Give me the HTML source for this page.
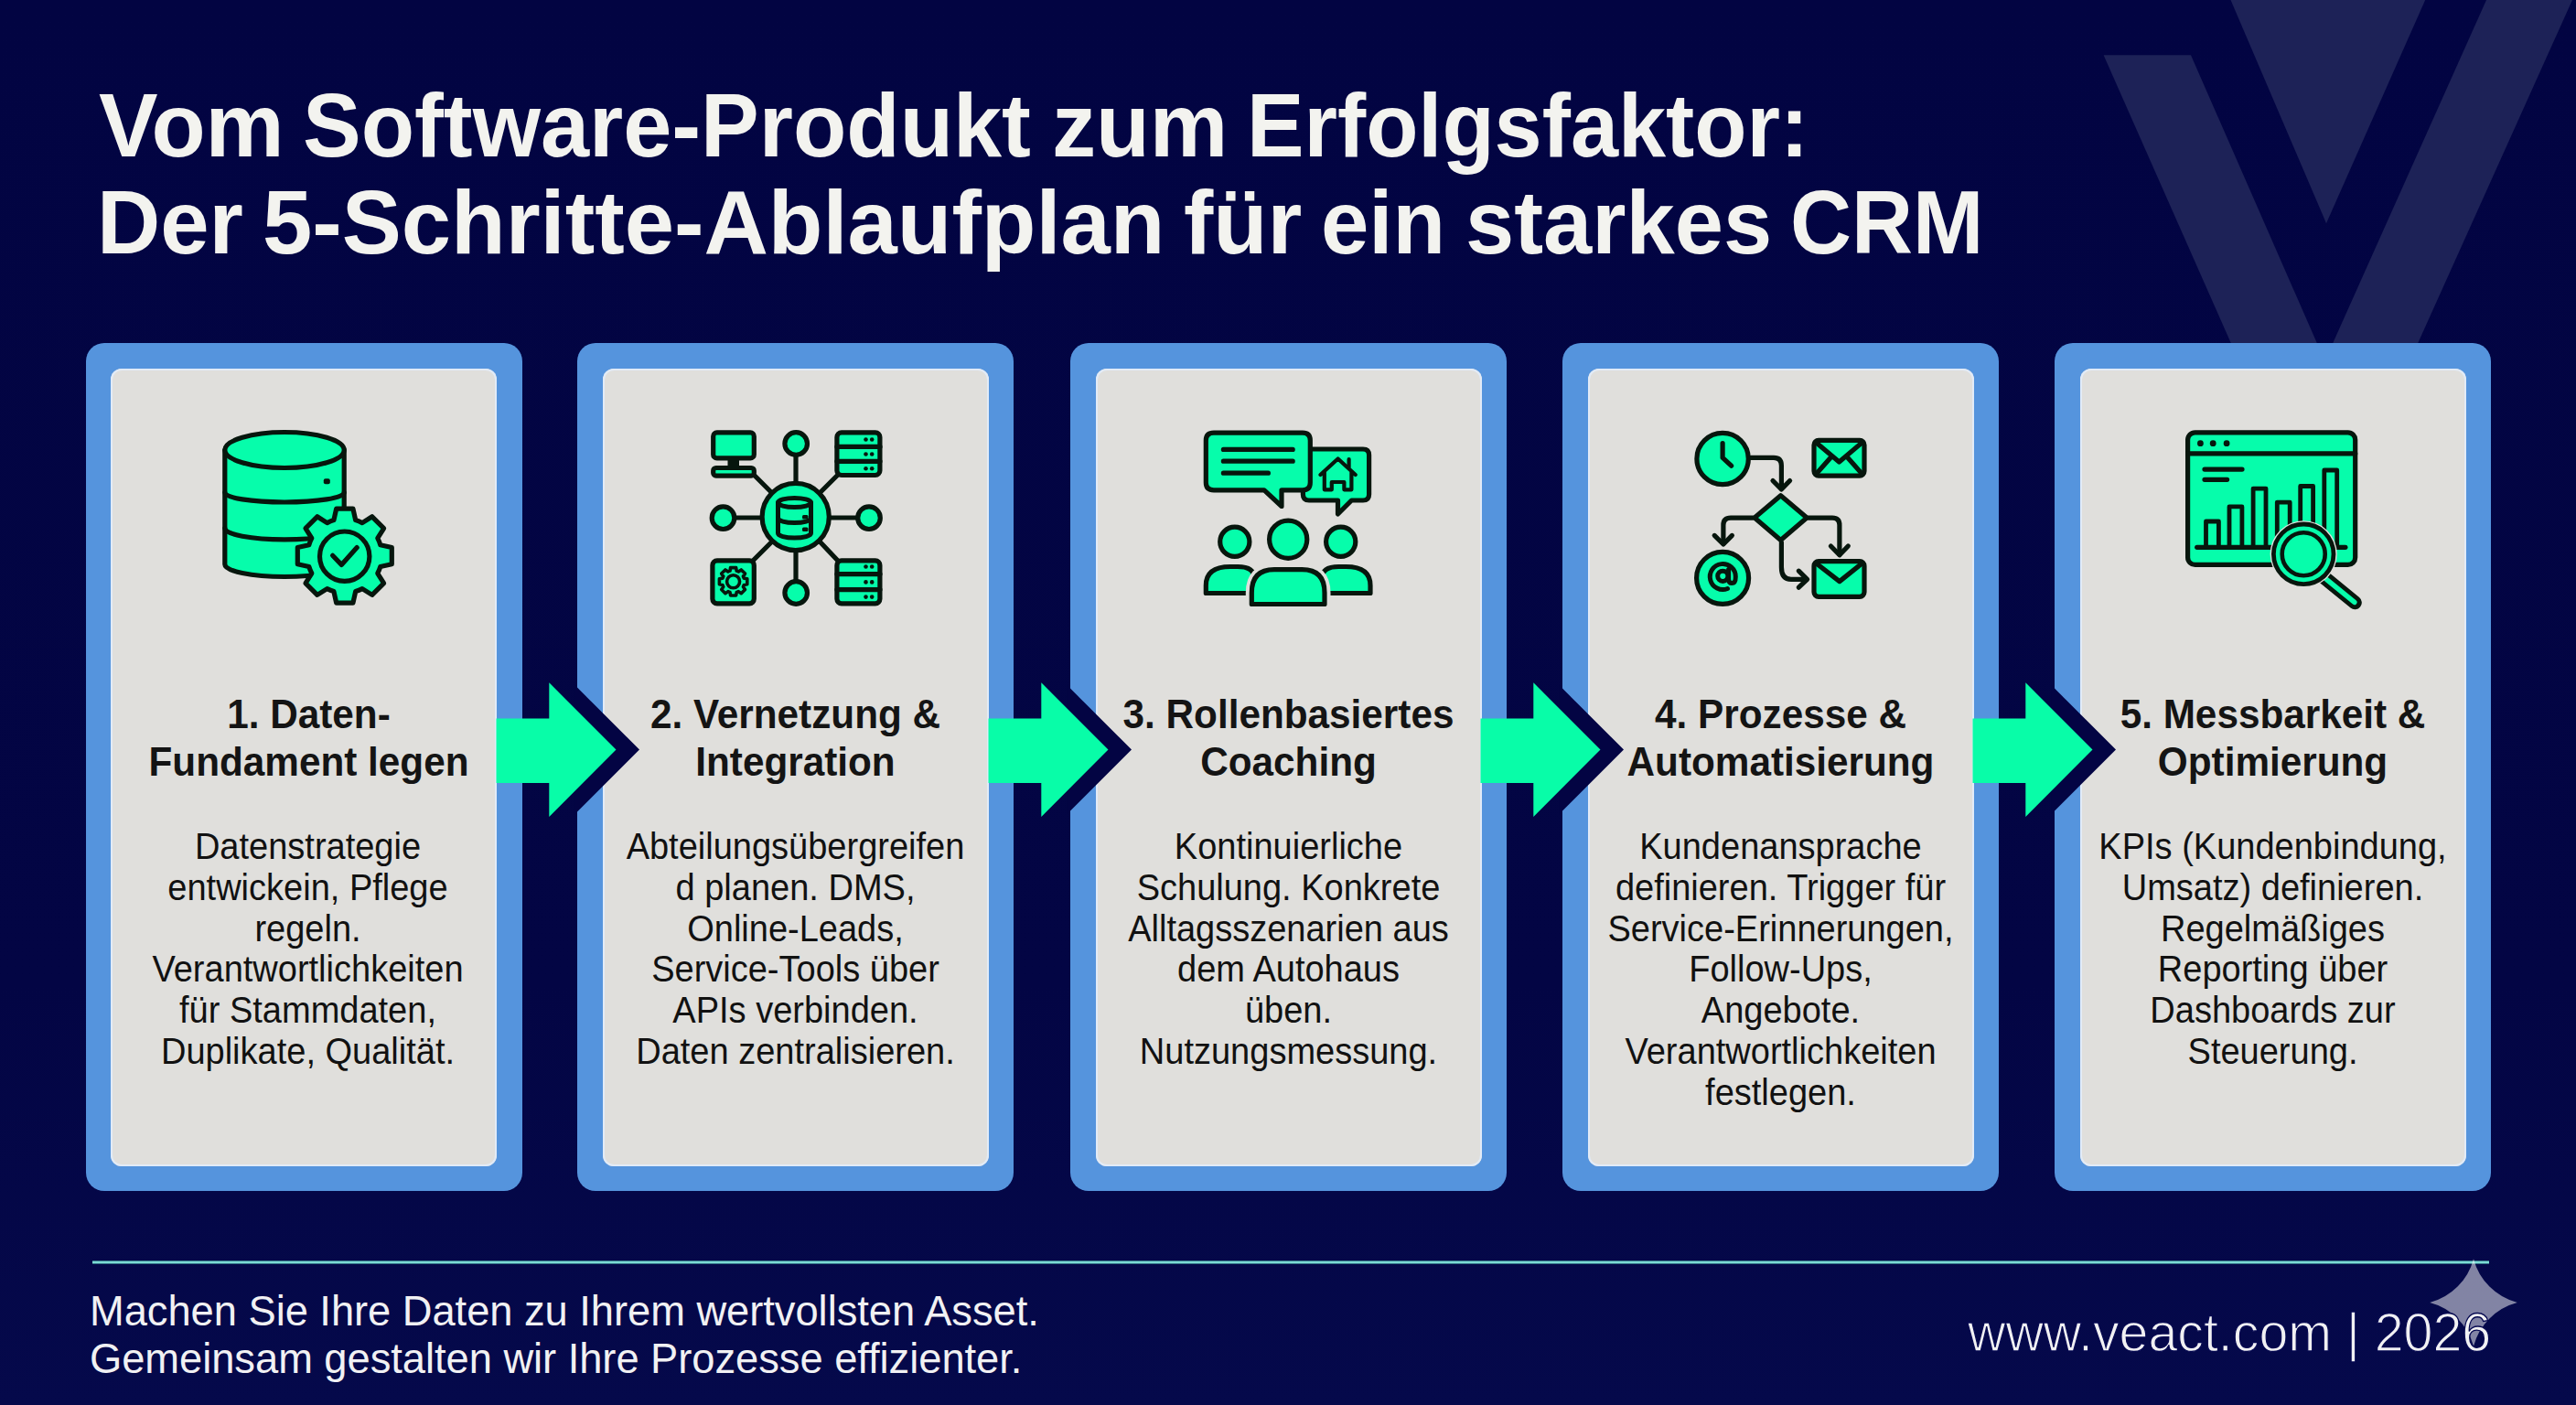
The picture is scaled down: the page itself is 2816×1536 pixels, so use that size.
<!DOCTYPE html>
<html lang="de">
<head>
<meta charset="utf-8">
<title>Vom Software-Produkt zum Erfolgsfaktor</title>
<style>
*{margin:0;padding:0;box-sizing:border-box}
html,body{width:2816px;height:1536px;overflow:hidden}
body{background:linear-gradient(180deg,#020442 0%,#030544 70%,#05094b 100%);font-family:"Liberation Sans",sans-serif;position:relative}
.abs{position:absolute}
#bg{position:absolute;left:0;top:0;width:2816px;height:1536px}
#title{position:absolute;left:0;top:0;margin:0;font-size:97.5px;font-weight:bold}
.tw{position:absolute;color:#f3f3ef;font-weight:bold;font-size:97.5px;line-height:105.7px;white-space:nowrap;transform-origin:0 0}
.card{position:absolute;top:375px;width:477px;height:927px;background:#5594dd;border-radius:20px}
.inner{position:absolute;left:27.5px;top:27.7px;right:27.5px;bottom:27.5px;background:#e0dfdc;border-radius:12px;box-shadow:inset 0 0 0 2px #e2ebf7}
.ttl{position:absolute;left:0;width:477px;top:755px;text-align:center;font-weight:bold;font-size:44.5px;line-height:51.6px;color:#141414;white-space:nowrap;transform:scaleX(0.95)}
.txt{position:absolute;left:0;width:477px;top:903px;text-align:center;font-size:40px;line-height:44.8px;color:#111;white-space:nowrap;transform:scaleX(0.95)}
#arrows{position:absolute;left:0;top:0}
#rule{position:absolute;left:101px;top:1377.5px;width:2620px;height:4.5px;background:linear-gradient(180deg,rgba(20,90,100,0.5) 0%,#6fd6cf 30%,#90e3de 50%,#6fd6cf 70%,rgba(20,90,100,0.5) 100%)}
#foot{position:absolute;left:98px;top:1407.5px;color:#f1f1f3;font-size:45.3px;line-height:52.5px;white-space:nowrap;letter-spacing:-0.04px}
#url{position:absolute;left:2151px;top:1422px;color:#f1f1f3;font-size:60px;line-height:70px;white-space:nowrap;transform:scaleX(0.955);transform-origin:0 0;-webkit-text-stroke:1.3px #050850}
</style>
</head>
<body>
<svg id="bg" width="2816" height="1536" viewBox="0 0 2816 1536">
  <g fill="#1d2257">
    <polygon points="2299.6,60.3 2395,60.3 2535,380 2441,380"/>
    <polygon points="2438.5,0 2651.2,0 2543,244.2"/>
    <polygon points="2718,0 2812,0 2641,380 2548,380"/>
  </g>
</svg>

<h1 id="title"><span class="tw" style="left:107.7px;top:85px;transform:scaleX(0.9934)">Vom</span>
<span class="tw" style="left:331.2px;top:85px;transform:scaleX(0.9795)">Software-Produkt</span>
<span class="tw" style="left:1150.3px;top:85px;transform:scaleX(0.9859)">zum</span>
<span class="tw" style="left:1362.7px;top:85px;transform:scaleX(0.9608)">Erfolgsfaktor:</span>
<span class="tw" style="left:105.5px;top:190.5px;transform:scaleX(0.9831)">Der</span>
<span class="tw" style="left:287.2px;top:190.5px;transform:scaleX(1.0005)">5-Schritte-Ablaufplan</span>
<span class="tw" style="left:1294.0px;top:190.5px;transform:scaleX(0.9952)">für</span>
<span class="tw" style="left:1443.9px;top:190.5px;transform:scaleX(0.9656)">ein</span>
<span class="tw" style="left:1601.8px;top:190.5px;transform:scaleX(0.9811)">starkes</span>
<span class="tw" style="left:1956.6px;top:190.5px;transform:scaleX(0.9521)">CRM</span></h1>

<div class="card" style="left:93.5px"><div class="inner"></div></div>
<div class="card" style="left:631px"><div class="inner"></div></div>
<div class="card" style="left:1170px"><div class="inner"></div></div>
<div class="card" style="left:1708px"><div class="inner"></div></div>
<div class="card" style="left:2246px"><div class="inner"></div></div>

<svg id="arrows" width="2816" height="1536" viewBox="0 0 2816 1536">
  <g transform="translate(542.5 0)"><polygon points="86,749.1 156.5,819.6 86,890.1" fill="#030443"/><polygon points="0,785.5 57.8,785.5 57.8,746.3 131,819.6 57.8,893 57.8,856 0,856" fill="#08fda8"/></g>
  <g transform="translate(1080.5 0)"><polygon points="86,749.1 156.5,819.6 86,890.1" fill="#030443"/><polygon points="0,785.5 57.8,785.5 57.8,746.3 131,819.6 57.8,893 57.8,856 0,856" fill="#08fda8"/></g>
  <g transform="translate(1618.5 0)"><polygon points="86,749.1 156.5,819.6 86,890.1" fill="#030443"/><polygon points="0,785.5 57.8,785.5 57.8,746.3 131,819.6 57.8,893 57.8,856 0,856" fill="#08fda8"/></g>
  <g transform="translate(2156.5 0)"><polygon points="86,749.1 156.5,819.6 86,890.1" fill="#030443"/><polygon points="0,785.5 57.8,785.5 57.8,746.3 131,819.6 57.8,893 57.8,856 0,856" fill="#08fda8"/></g>
</svg>

<div class="ttl" style="left:99px">1. Daten-<br>Fundament legen</div>
<div class="txt" style="left:97.5px">Datenstrategie<br>entwickein, Pflege<br>regeln.<br>Verantwortlichkeiten<br>für Stammdaten,<br>Duplikate, Qualität.</div>
<div class="ttl" style="left:631px">2. Vernetzung &amp;<br>Integration</div>
<div class="txt" style="left:631px">Abteilungsübergreifen<br>d planen. DMS,<br>Online-Leads,<br>Service-Tools über<br>APIs verbinden.<br>Daten zentralisieren.</div>
<div class="ttl" style="left:1170px">3. Rollenbasiertes<br>Coaching</div>
<div class="txt" style="left:1170px">Kontinuierliche<br>Schulung. Konkrete<br>Alltagsszenarien aus<br>dem Autohaus<br>üben.<br>Nutzungsmessung.</div>
<div class="ttl" style="left:1708px">4. Prozesse &amp;<br>Automatisierung</div>
<div class="txt" style="left:1708px">Kundenansprache<br>definieren. Trigger für<br>Service-Erinnerungen,<br>Follow-Ups,<br>Angebote.<br>Verantwortlichkeiten<br>festlegen.</div>
<div class="ttl" style="left:2246px">5. Messbarkeit &amp;<br>Optimierung</div>
<div class="txt" style="left:2246px">KPIs (Kundenbindung,<br>Umsatz) definieren.<br>Regelmäßiges<br>Reporting über<br>Dashboards zur<br>Steuerung.</div>

<!--ICONS-->
<svg id="icons" width="2816" height="1536" viewBox="0 0 2816 1536" style="position:absolute;left:0;top:0">
<g fill="#06fdab" stroke="#07160d" stroke-width="5.2" stroke-linejoin="round" stroke-linecap="round">
<path d="M245.8 492 L245.8 617 A65.2 13.5 0 0 0 376.2 617 L376.2 492 Z"/>
<ellipse cx="311" cy="492" rx="65.2" ry="19.5"/>
<path fill="none" d="M245.8 538.5 A65.2 10.5 0 0 0 376.2 538.5"/>
<path fill="none" d="M245.8 577.6 A65.2 12.2 0 0 0 376.2 577.6"/>
<rect x="353.8" y="523.2" width="7" height="6" rx="2" fill="#07160d" stroke="none"/>
<path d="M364.9 568.6 L367.7 556.1 L385.9 556.1 L388.7 568.6 A40.8 40.8 0 0 1 396.0 571.6 L406.8 564.8 L419.6 577.6 L412.8 588.4 A40.8 40.8 0 0 1 415.8 595.7 L428.3 598.5 L428.3 616.7 L415.8 619.5 A40.8 40.8 0 0 1 412.8 626.8 L419.6 637.6 L406.8 650.4 L396.0 643.6 A40.8 40.8 0 0 1 388.7 646.6 L385.9 659.1 L367.7 659.1 L364.9 646.6 A40.8 40.8 0 0 1 357.6 643.6 L346.8 650.4 L334.0 637.6 L340.8 626.8 A40.8 40.8 0 0 1 337.8 619.5 L325.3 616.7 L325.3 598.5 L337.8 595.7 A40.8 40.8 0 0 1 340.8 588.4 L334.0 577.6 L346.8 564.8 L357.6 571.6 A40.8 40.8 0 0 1 364.9 568.6 Z"/>
<circle cx="376.7" cy="608.2" r="27.2"/>
<path fill="none" d="M363.6 607.3 L373.3 617.4 L390.2 598.6"/>
<g fill="none">
<path d="M870 499 V527 M870 603 V634 M805 566 H832 M908 566 H936"/>
<path d="M843 538 L824 519 M897 538 L915 520 M843 593 L824 612 M897 593 L915 612"/>
</g>
<circle cx="870.2" cy="485" r="12.3"/>
<circle cx="870.2" cy="648" r="12.3"/>
<circle cx="790.5" cy="566.2" r="12.3"/>
<circle cx="950" cy="566.2" r="12.3"/>
<circle cx="869.7" cy="565" r="36.6"/>
<path d="M850.5 549.5 V583 A18 5 0 0 0 886.5 583 V549.5 Z" stroke-width="5"/>
<ellipse cx="868.5" cy="549.5" rx="18" ry="5" stroke-width="5"/>
<path fill="none" stroke-width="5" d="M850.5 566.5 A18 5 0 0 0 886.5 566.5"/>
<rect x="877" y="563" width="6.5" height="4.5" rx="1.5" fill="#07160d" stroke="none"/>
<rect x="877" y="576.5" width="6.5" height="4.5" rx="1.5" fill="#07160d" stroke="none"/>
<rect x="779.7" y="472.9" width="44.6" height="28" rx="4"/>
<rect x="779.7" y="511.5" width="44.6" height="8.6" rx="3"/>
<rect x="795.5" y="502" width="12.5" height="8" fill="#07160d" stroke="none"/>
<rect x="914.9" y="472.9" width="47" height="46.6" rx="5"/>
<path fill="none" d="M915 488.4 H962 M915 504.3 H962"/>
<circle cx="946.5" cy="480.5" r="2.3" fill="#07160d" stroke="none"/>
<circle cx="953.2" cy="480.5" r="2.3" fill="#07160d" stroke="none"/>
<circle cx="946.5" cy="496.5" r="2.3" fill="#07160d" stroke="none"/>
<circle cx="953.2" cy="496.5" r="2.3" fill="#07160d" stroke="none"/>
<circle cx="946.5" cy="512.2" r="2.3" fill="#07160d" stroke="none"/>
<circle cx="953.2" cy="512.2" r="2.3" fill="#07160d" stroke="none"/>
<rect x="778.9" y="612.9" width="45.4" height="46.9" rx="5"/>
<path d="M798.0 624.1 L798.6 620.6 L804.6 620.6 L805.2 624.1 A12.2 12.2 0 0 1 807.3 625.0 L810.3 622.9 L814.5 627.1 L812.4 630.1 A12.2 12.2 0 0 1 813.3 632.2 L816.8 632.8 L816.8 638.8 L813.3 639.4 A12.2 12.2 0 0 1 812.4 641.5 L814.5 644.5 L810.3 648.7 L807.3 646.6 A12.2 12.2 0 0 1 805.2 647.5 L804.6 651.0 L798.6 651.0 L798.0 647.5 A12.2 12.2 0 0 1 795.9 646.6 L792.9 648.7 L788.7 644.5 L790.8 641.5 A12.2 12.2 0 0 1 789.9 639.4 L786.4 638.8 L786.4 632.8 L789.9 632.2 A12.2 12.2 0 0 1 790.8 630.1 L788.7 627.1 L792.9 622.9 L795.9 625.0 A12.2 12.2 0 0 1 798.0 624.1 Z" fill="none" stroke-width="3.6"/>
<circle cx="801.6" cy="635.8" r="7" fill="none" stroke-width="3.6"/>
<rect x="914.9" y="612.9" width="47" height="46.9" rx="5"/>
<path fill="none" d="M915 627.6 H962 M915 644.6 H962"/>
<circle cx="946.5" cy="619.5" r="2.3" fill="#07160d" stroke="none"/>
<circle cx="953.2" cy="619.5" r="2.3" fill="#07160d" stroke="none"/>
<circle cx="946.5" cy="636.4" r="2.3" fill="#07160d" stroke="none"/>
<circle cx="953.2" cy="636.4" r="2.3" fill="#07160d" stroke="none"/>
<circle cx="946.5" cy="652.6" r="2.3" fill="#07160d" stroke="none"/>
<circle cx="953.2" cy="652.6" r="2.3" fill="#07160d" stroke="none"/>
<path d="M1430 491 H1490 Q1496.6 491 1496.6 497.6 V540.5 Q1496.6 547 1490 547 H1477.5 L1462.5 562 L1462.5 547 H1431 Q1424.4 547 1424.4 540.5 V497.6 Q1424.4 491 1430 491 Z"/>
<path d="M1327 473.2 H1424 Q1432.3 473.2 1432.3 481.5 V527.5 Q1432.3 535.8 1424 535.8 H1401 V553.5 L1382 535.8 H1327 Q1318.3 535.8 1318.3 527.5 V481.5 Q1318.3 473.2 1327 473.2 Z"/>
<path fill="none" d="M1337.4 491.4 H1413.2 M1337.4 504.2 H1413.2 M1337.4 517.2 H1386.4"/>
<path stroke-width="4.2" d="M1443.5 519 L1462.6 501.5 L1481.7 519 M1447.8 515.5 V535.3 H1455.8 V527 H1469.4 V535.3 H1477.4 V515.5"  fill="none"/>
<path fill="none" stroke-width="4.2" d="M1474.6 510.5 V502"/>
<path d="M1318.3 648.5 V640 Q1318.3 619.5 1345 619.5 H1353 Q1371 619.5 1371 632 V648.5 Z"/>
<path d="M1498 648.5 V640 Q1498 619.5 1471.3 619.5 H1463.3 Q1445.3 619.5 1445.3 632 V648.5 Z"/>
<circle cx="1349.8" cy="592.3" r="16.1"/>
<circle cx="1465.7" cy="592.3" r="16.1"/>
<circle cx="1408.2" cy="589.7" r="20.6"/>
<path fill="none" stroke="#e0dfdc" stroke-width="13" d="M1368.3 660.5 V648 Q1368.3 622.7 1393 622.7 H1423.4 Q1448 622.7 1448 648 V660.5"/>
<path d="M1368.3 660.5 V648 Q1368.3 622.7 1393 622.7 H1423.4 Q1448 622.7 1448 648 V660.5 Z"/>
<g fill="none">
<path d="M1914 500.4 H1939 Q1947.4 500.4 1947.4 509 V534"/>
<path d="M1938 525.5 L1947.4 535 L1956.6 525.5"/>
<path d="M1916 566.1 H1892 Q1883.9 566.1 1883.9 574 V594"/>
<path d="M1874.2 585.4 L1883.9 595 L1893.4 585.4"/>
<path d="M1977 566.1 H2003 Q2010.9 566.1 2010.9 574 V606"/>
<path d="M2001.4 597 L2010.9 606.8 L2020.3 597"/>
<path d="M1947.4 593 V620 Q1947.4 633.4 1958 633.4 H1974"/>
<path d="M1966.3 624.2 L1975.6 633.4 L1966.3 642.2"/>
</g>
<circle cx="1883.1" cy="501.5" r="28.2"/>
<path fill="none" d="M1883.1 484.5 V500.4 L1892.6 509.2"/>
<path d="M1946.6 541.8 L1975.2 566.1 L1946.6 590.4 L1918 566.1 Z"/>
<circle cx="1883.1" cy="631.9" r="28.5"/>
<circle cx="1883.3" cy="629.8" r="5.6" fill="none" stroke-width="5"/>
<path fill="none" stroke-width="5" d="M1889.6 622.5 V633 Q1889.6 637.6 1893.3 637.6 Q1897.3 637.6 1897.3 630.5 A14 14 0 1 0 1888.5 643.5"/>
<rect x="1983" y="481.4" width="55" height="38.7" rx="5"/>
<path fill="none" d="M1985 483.5 L2010.5 505 L2036 483.5 M1985.5 518 L2001 500.5 M2035.5 518 L2020 500.5"/>
<rect x="1983" y="613.7" width="55" height="38.6" rx="5"/>
<path fill="none" d="M1985 615.5 L2010.9 635.6 L2036 615.5"/>
<rect x="2391.6" y="472.8" width="183.1" height="144.6" rx="8"/>
<path fill="none" d="M2391.6 495.9 H2574.7"/>
<circle cx="2405.4" cy="484.7" r="3.4" fill="#07160d" stroke="none"/>
<circle cx="2419.2" cy="484.7" r="3.4" fill="#07160d" stroke="none"/>
<circle cx="2434.1" cy="484.7" r="3.4" fill="#07160d" stroke="none"/>
<path fill="none" d="M2410 513.1 H2451 M2410 524.3 H2434.6"/>
<rect x="2411.5" y="570.0" width="13.9" height="28.3" stroke-width="4.8"/>
<rect x="2437.0" y="553.9" width="13.9" height="44.4" stroke-width="4.8"/>
<rect x="2463.1" y="534.1" width="13.9" height="64.2" stroke-width="4.8"/>
<rect x="2489.3" y="549.1" width="13.9" height="49.2" stroke-width="4.8"/>
<rect x="2514.7" y="531.5" width="13.9" height="66.8" stroke-width="4.8"/>
<rect x="2540.8" y="514.0" width="13.9" height="84.3" stroke-width="4.8"/>
<path fill="none" d="M2401.7 598.3 H2563.9"/>
<path fill="none" stroke="#e0dfdc" stroke-width="19" d="M2541.4 631.9 L2574.3 658.8"/>
<path fill="none" stroke="#07160d" stroke-width="15" d="M2541.4 631.9 L2574.3 658.8"/>
<path fill="none" stroke="#06fdab" stroke-width="5.5" d="M2543.5 633.6 L2573.8 658.4"/>
<circle cx="2518.2" cy="605.8" r="36.6" fill="#e0dfdc" stroke="none"/>
<circle cx="2518.2" cy="605.8" r="32.8" stroke-width="4.8"/>
<circle cx="2518.2" cy="605.8" r="23.5" stroke-width="4.6"/>
</g>
</svg>
<!--/ICONS-->
<div id="rule"></div>
<div id="foot">Machen Sie Ihre Daten zu Ihrem wertvollsten Asset.<br>Gemeinsam gestalten wir Ihre Prozesse effizienter.</div>
<svg id="star" width="2816" height="1536" viewBox="0 0 2816 1536" style="position:absolute;left:0;top:0"><path d="M2704.0 1376.2 A67.1 67.1 0 0 0 2751.8 1424.0 A67.1 67.1 0 0 0 2704.0 1471.8 A67.1 67.1 0 0 0 2656.2 1424.0 A67.1 67.1 0 0 0 2704.0 1376.2 Z" fill="#ffffff" fill-opacity="0.5"/></svg>
<div id="url">www.veact.com | 2026</div>

</body>
</html>
